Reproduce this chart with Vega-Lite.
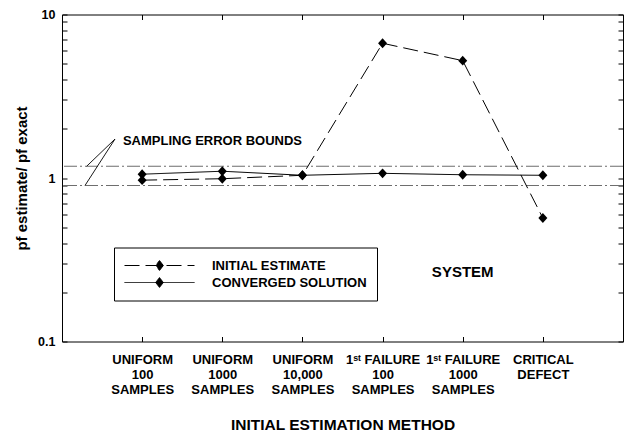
{
  "$schema": "https://vega.github.io/schema/vega-lite/v6.json",
  "width": 561,
  "height": 327,
  "autosize": "none",
  "padding": {"left": 62, "top": 14.5, "right": 1, "bottom": 94.5},
  "background": "white",
  "config": {
    "font": "Liberation Sans",
    "view": {"stroke": "black", "strokeWidth": 1},
    "axis": {
      "grid": false,
      "domain": false,
      "tickColor": "black",
      "tickWidth": 1,
      "labelColor": "black",
      "labelFont": "Liberation Sans",
      "labelFontWeight": "bold",
      "labelFontSize": 12,
      "titleColor": "black",
      "titleFont": "Liberation Sans",
      "titleFontWeight": "bold",
      "titleFontSize": 15
    },
    "legend": {
      "orient": "none",
      "legendX": 52,
      "legendY": 233,
      "direction": "vertical",
      "padding": 10,
      "strokeColor": "black",
      "fillColor": "white",
      "labelFont": "Liberation Sans",
      "labelFontSize": 13,
      "labelFontWeight": "bold",
      "labelColor": "black",
      "labelLimit": 300
    }
  },
  "datasets": {
    "estimates": [
      {"pos": 1, "method": "UNIFORM 100 SAMPLES", "series": "INITIAL ESTIMATE", "ratio": 0.97},
      {"pos": 2, "method": "UNIFORM 1000 SAMPLES", "series": "INITIAL ESTIMATE", "ratio": 0.99},
      {"pos": 3, "method": "UNIFORM 10,000 SAMPLES", "series": "INITIAL ESTIMATE", "ratio": 1.039},
      {"pos": 4, "method": "1st FAILURE 100 SAMPLES", "series": "INITIAL ESTIMATE", "ratio": 6.67},
      {"pos": 5, "method": "1st FAILURE 1000 SAMPLES", "series": "INITIAL ESTIMATE", "ratio": 5.22},
      {"pos": 6, "method": "CRITICAL DEFECT", "series": "INITIAL ESTIMATE", "ratio": 0.569},
      {"pos": 1, "method": "UNIFORM 100 SAMPLES", "series": "CONVERGED SOLUTION", "ratio": 1.055},
      {"pos": 2, "method": "UNIFORM 1000 SAMPLES", "series": "CONVERGED SOLUTION", "ratio": 1.1},
      {"pos": 3, "method": "UNIFORM 10,000 SAMPLES", "series": "CONVERGED SOLUTION", "ratio": 1.039},
      {"pos": 4, "method": "1st FAILURE 100 SAMPLES", "series": "CONVERGED SOLUTION", "ratio": 1.068},
      {"pos": 5, "method": "1st FAILURE 1000 SAMPLES", "series": "CONVERGED SOLUTION", "ratio": 1.047},
      {"pos": 6, "method": "CRITICAL DEFECT", "series": "CONVERGED SOLUTION", "ratio": 1.039}
    ],
    "bounds": [
      {"bound": "upper", "ratio": 1.18},
      {"bound": "lower", "ratio": 0.9}
    ],
    "leaders": [
      {"pos": 0.661, "ratio": 1.73, "pos2": 0.308, "ratio2": 1.18},
      {"pos": 0.661, "ratio": 1.73, "pos2": 0.287, "ratio2": 0.9}
    ]
  },
  "layer": [
    {
      "data": {"name": "bounds"},
      "mark": {"type": "rule", "color": "#6e6e6e", "strokeWidth": 1.2, "strokeDash": [13, 3, 2, 3]},
      "encoding": {
        "y": {
          "field": "ratio", "type": "quantitative",
          "scale": {"type": "log", "domain": [0.1, 10]},
          "axis": {
            "orient": "right", "title": null, "labels": false, "tickSize": -5,
            "values": [0.1, 0.2, 0.3, 0.4, 0.5, 0.6, 0.7, 0.8, 0.9, 1, 2, 3, 4, 5, 6, 7, 8, 9, 10]
          }
        }
      }
    },
    {
      "data": {"name": "estimates"},
      "mark": {"type": "line", "color": "black", "strokeWidth": 1},
      "encoding": {
        "x": {
          "field": "pos", "type": "quantitative",
          "scale": {"domain": [0, 7]},
          "axis": {
            "orient": "bottom",
            "title": "INITIAL ESTIMATION METHOD",
            "titleFontSize": 15.5,
            "titlePadding": 21,
            "values": [1, 2, 3, 4, 5, 6],
            "tickSize": -5,
            "labelFontSize": 13,
            "labelPadding": 17,
            "labelBaseline": "top",
            "labelLineHeight": 15,
            "labelOverlap": false,
            "labelBound": false,
            "labelFlush": false,
            "labelExpr": "[[''], ['UNIFORM', '100', 'SAMPLES'], ['UNIFORM', '1000', 'SAMPLES'], ['UNIFORM', '10,000', 'SAMPLES'], ['1ˢᵗ FAILURE', '100', 'SAMPLES'], ['1ˢᵗ FAILURE', '1000', 'SAMPLES'], ['CRITICAL', 'DEFECT']][datum.value]"
          }
        },
        "y": {
          "field": "ratio", "type": "quantitative",
          "scale": {"type": "log", "domain": [0.1, 10]},
          "axis": {
            "orient": "left",
            "title": "pf estimate/ pf exact",
            "titlePadding": 8,
            "tickSize": -5,
            "labelPadding": 12,
            "labelFontSize": 12.5,
            "values": [0.1, 0.2, 0.3, 0.4, 0.5, 0.6, 0.7, 0.8, 0.9, 1, 2, 3, 4, 5, 6, 7, 8, 9, 10],
            "labelExpr": "datum.value == 0.1 ? '0.1' : datum.value == 1 ? '1' : datum.value == 10 ? '10' : ''"
          }
        },
        "strokeDash": {
          "field": "series", "type": "nominal",
          "scale": {"domain": ["INITIAL ESTIMATE", "CONVERGED SOLUTION"], "range": [[15, 6], [1, 0]]},
          "legend": {
            "title": null,
            "symbolType": "M-1,0L1,0M0,-0.14L0.11,0L0,0.14L-0.11,0Z",
            "symbolSize": 4900,
            "symbolFillColor": "black",
            "symbolStrokeColor": "black",
            "symbolStrokeWidth": 1,
            "labelOffset": 17,
            "clipHeight": 16,
            "rowPadding": 1
          }
        }
      }
    },
    {
      "data": {"name": "estimates"},
      "mark": {"type": "point", "shape": "M0,-1.1L1,0L0,1.1L-1,0Z", "filled": true, "color": "black", "opacity": 1, "size": 81},
      "encoding": {
        "x": {
          "field": "pos", "type": "quantitative",
          "scale": {"domain": [0, 7]},
          "axis": {"orient": "top", "title": null, "labels": false, "tickSize": -5, "values": [1, 2, 3, 4, 5, 6]}
        },
        "y": {
          "field": "ratio", "type": "quantitative",
          "scale": {"type": "log", "domain": [0.1, 10]},
          "axis": null
        }
      }
    },
    {
      "data": {"name": "leaders"},
      "mark": {"type": "rule", "color": "black", "strokeWidth": 0.9},
      "encoding": {
        "x": {"field": "pos", "type": "quantitative", "scale": {"domain": [0, 7]}, "axis": null},
        "x2": {"field": "pos2"},
        "y": {"field": "ratio", "type": "quantitative", "scale": {"type": "log", "domain": [0.1, 10]}, "axis": null},
        "y2": {"field": "ratio2"}
      }
    },
    {
      "data": {"values": [{"note": "SAMPLING ERROR BOUNDS", "pos": 0.76, "ratio": 1.69}]},
      "mark": {"type": "text", "align": "left", "baseline": "middle", "font": "Liberation Sans", "fontWeight": "bold", "fontSize": 13, "color": "black"},
      "encoding": {
        "x": {"field": "pos", "type": "quantitative", "scale": {"domain": [0, 7]}, "axis": null},
        "y": {"field": "ratio", "type": "quantitative", "scale": {"type": "log", "domain": [0.1, 10]}, "axis": null},
        "text": {"field": "note"}
      }
    },
    {
      "data": {"values": [{"note": "SYSTEM", "pos": 5, "ratio": 0.267}]},
      "mark": {"type": "text", "align": "center", "baseline": "middle", "font": "Liberation Sans", "fontWeight": "bold", "fontSize": 15, "color": "black"},
      "encoding": {
        "x": {"field": "pos", "type": "quantitative", "scale": {"domain": [0, 7]}, "axis": null},
        "y": {"field": "ratio", "type": "quantitative", "scale": {"type": "log", "domain": [0.1, 10]}, "axis": null},
        "text": {"field": "note"}
      }
    }
  ],
  "resolve": {"axis": {"x": "independent", "y": "independent"}}
}
